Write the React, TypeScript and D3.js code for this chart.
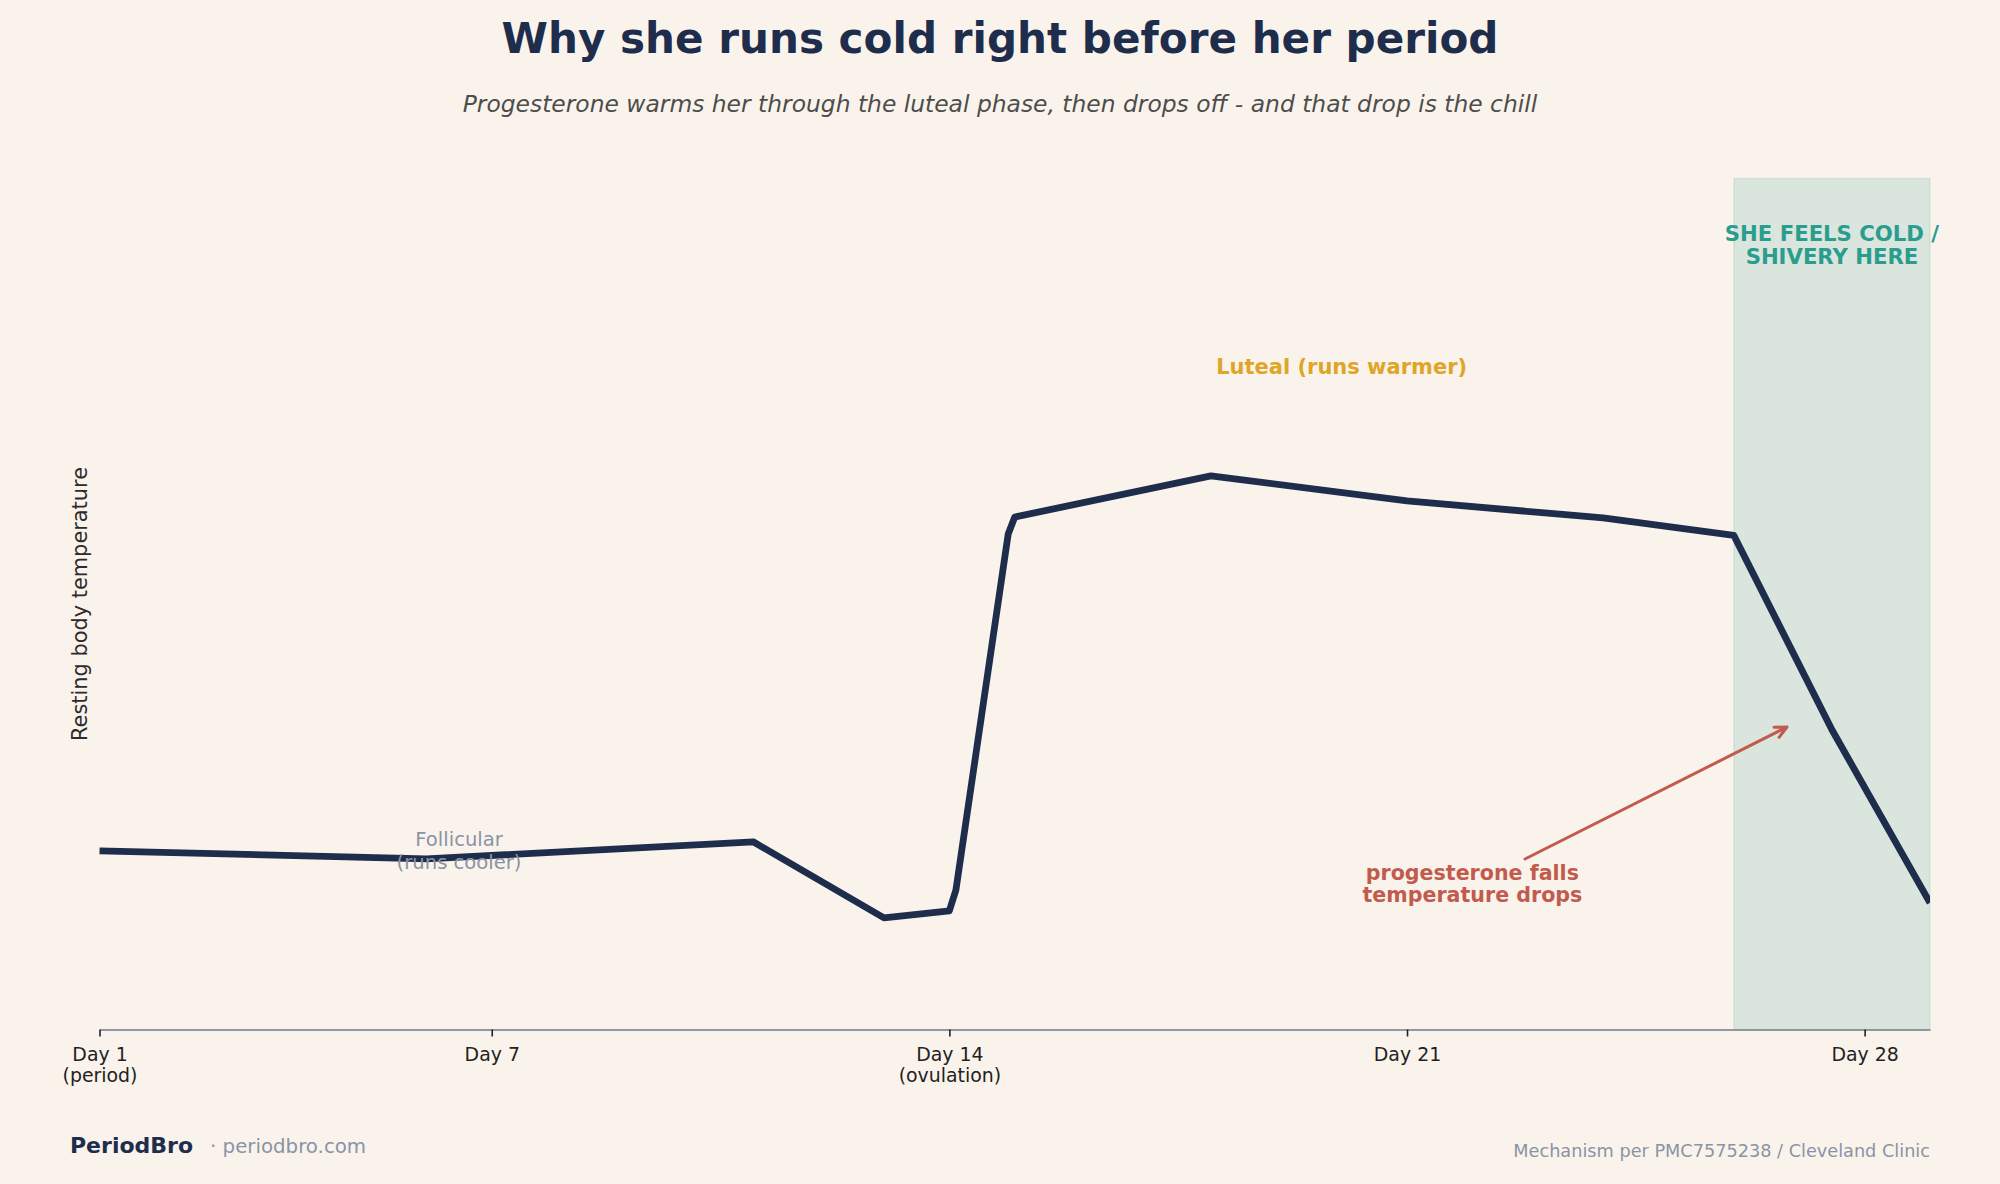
import React, { useEffect, useRef } from 'react';
import * as d3 from 'd3';

// resting temperature (°F) by cycle day
const days = [1, 6, 11, 13, 14, 14.1, 14.9, 15, 18, 21, 24, 26, 27.5, 29];
const tempsF = [97.278, 97.261, 97.297, 97.136, 97.151, 97.195, 97.948, 97.984, 98.071, 98.018, 97.982, 97.945, 97.534, 97.168];

const tickDays = [1, 7, 14, 21, 28];
const tickLabels = [['Day 1', '(period)'], ['Day 7'], ['Day 14', '(ovulation)'], ['Day 21'], ['Day 28']];

const coldWindow = [26, 29];

const FONT = '"DejaVu Sans", sans-serif';
const NAVY = '#1f2d4d';
const TEAL = '#2a9d8f';
const RED = '#c25b4e';
const GOLD = '#dfa527';
const MUTED = '#8a93a6';

const App: React.FC = () => {
  const ref = useRef<SVGSVGElement | null>(null);

  useEffect(() => {
    const W = 2000;
    const H = 1184;
    const margin = { top: 178.5, right: 70, bottom: 154.5, left: 99.5 };

    d3.select(ref.current).selectAll('*').remove();
    const svg = d3.select(ref.current).attr('width', W).attr('height', H);

    svg.append('rect').attr('width', W).attr('height', H).attr('fill', '#faf3eb');

    const x = d3.scaleLinear().domain([1, 29]).range([margin.left, W - margin.right]);
    const y = d3.scaleLinear().domain([96.9, 98.7]).range([H - margin.bottom, margin.top]);

    // cold window band
    svg.append('rect')
      .attr('x', x(coldWindow[0]))
      .attr('y', margin.top)
      .attr('width', x(coldWindow[1]) - x(coldWindow[0]))
      .attr('height', H - margin.bottom - margin.top)
      .attr('fill', TEAL)
      .attr('fill-opacity', 0.15)
      .attr('stroke', TEAL)
      .attr('stroke-opacity', 0.12)
      .attr('stroke-width', 1.5);

    // x axis
    const xAxis = d3.axisBottom(x)
      .tickValues(tickDays)
      .tickSize(7)
      .tickSizeOuter(0)
      .tickFormat(() => '');
    const gx = svg.append('g')
      .attr('transform', `translate(0,${H - margin.bottom})`)
      .call(xAxis);
    gx.select('.domain').attr('stroke', '#8f98a3').attr('stroke-width', 2);
    gx.selectAll('.tick line').attr('stroke', '#222').attr('stroke-width', 1.6);
    gx.selectAll('.tick').each(function (d, i) {
      const t = d3.select(this).append('text')
        .attr('fill', '#222')
        .attr('font-family', FONT)
        .attr('font-size', 18.9)
        .attr('text-anchor', 'middle');
      tickLabels[i].forEach((s, j) => {
        t.append('tspan').attr('x', 0).attr('y', 31 + j * 21).text(s);
      });
    });

    // temperature line
    const line = d3.line<number>()
      .x((_, i) => x(days[i]))
      .y((d) => y(d));
    svg.append('clipPath').attr('id', 'plotclip')
      .append('rect')
      .attr('x', margin.left - 10)
      .attr('y', margin.top)
      .attr('width', W - margin.right - margin.left + 10)
      .attr('height', H - margin.bottom - margin.top);
    svg.append('path')
      .datum(tempsF)
      .attr('d', line)
      .attr('fill', 'none')
      .attr('stroke', NAVY)
      .attr('stroke-width', 6.8)
      .attr('stroke-linejoin', 'round')
      .attr('clip-path', 'url(#plotclip)');

    // y label
    svg.append('text')
      .attr('transform', `translate(87,${(margin.top + H - margin.bottom) / 2}) rotate(-90)`)
      .attr('text-anchor', 'middle')
      .attr('font-family', FONT)
      .attr('font-size', 20.9)
      .attr('fill', '#2b2b2b')
      .text('Resting body temperature');

    const multi = (lines: string[], cx: number, by: number, lh: number, size: number, color: string, weight: string) => {
      const t = svg.append('text')
        .attr('text-anchor', 'middle')
        .attr('font-family', FONT)
        .attr('font-size', size)
        .attr('font-weight', weight)
        .attr('fill', color);
      lines.forEach((s, j) => t.append('tspan').attr('x', cx).attr('y', by + j * lh).text(s));
    };

    multi(['Follicular', '(runs cooler)'], x(6.5), 846, 22.5, 19.6, MUTED, 'normal');
    multi(['Luteal (runs warmer)'], x(20), 374, 22, 21, GOLD, 'bold');
    multi(['SHE FEELS COLD /', 'SHIVERY HERE'], x(27.5), 241, 22.7, 21.2, TEAL, 'bold');
    multi(['progesterone falls', 'temperature drops'], x(22), 880, 22, 20.6, RED, 'bold');

    // arrow
    const ax0 = 1525, ay0 = 859, ax1 = 1787, ay1 = 727;
    const ang = Math.atan2(ay1 - ay0, ax1 - ax0);
    const hl = 13, spread = 0.45;
    svg.append('path')
      .attr('d', `M${ax0},${ay0}L${ax1},${ay1}` +
        `M${ax1 - hl * Math.cos(ang - spread)},${ay1 - hl * Math.sin(ang - spread)}L${ax1},${ay1}` +
        `L${ax1 - hl * Math.cos(ang + spread)},${ay1 - hl * Math.sin(ang + spread)}`)
      .attr('fill', 'none')
      .attr('stroke', RED)
      .attr('stroke-width', 3)
      .attr('stroke-linecap', 'round')
      .attr('stroke-linejoin', 'round');

    // titles
    svg.append('text')
      .attr('x', W / 2).attr('y', 53)
      .attr('text-anchor', 'middle')
      .attr('font-family', FONT)
      .attr('font-size', 42.1)
      .attr('font-weight', 'bold')
      .attr('fill', NAVY)
      .text('Why she runs cold right before her period');
    svg.append('text')
      .attr('x', W / 2).attr('y', 112)
      .attr('text-anchor', 'middle')
      .attr('font-family', FONT)
      .attr('font-size', 23.4)
      .attr('font-style', 'italic')
      .attr('fill', '#4d4d4d')
      .text('Progesterone warms her through the luteal phase, then drops off - and that drop is the chill');

    // footer
    svg.append('text')
      .attr('x', 70).attr('y', 1153)
      .attr('font-family', FONT)
      .attr('font-size', 22)
      .attr('font-weight', 'bold')
      .attr('fill', NAVY)
      .text('PeriodBro');
    svg.append('text')
      .attr('x', 210).attr('y', 1153)
      .attr('font-family', FONT)
      .attr('font-size', 19.8)
      .attr('fill', MUTED)
      .text('· periodbro.com');
    svg.append('text')
      .attr('x', W - margin.right).attr('y', 1157)
      .attr('text-anchor', 'end')
      .attr('font-family', FONT)
      .attr('font-size', 17.7)
      .attr('fill', MUTED)
      .text('Mechanism per PMC7575238 / Cleveland Clinic');
  }, []);

  return <svg ref={ref} style={{ position: 'absolute', left: 0, top: 0, display: 'block' }}></svg>;
};

export default App;
